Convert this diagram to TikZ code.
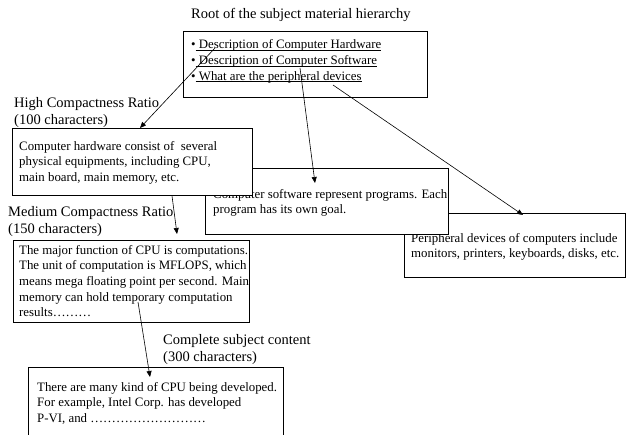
\documentclass[tikz,border=0pt]{standalone}
\usepackage{fontspec}
\setmainfont{Liberation Serif}
\usetikzlibrary{arrows.meta}
\newcommand{\uln}[1]{\underline{\smash{#1}}}

\begin{document}
\begin{tikzpicture}[x=1pt,y=-1pt,
  box/.style={draw,line width=0.8pt,fill=white,anchor=north west,inner sep=0pt},
  boxtext/.style={font=\fontsize{12.85}{15.6}\selectfont,align=left,anchor=north west,inner sep=0pt},
  headtext/.style={font=\fontsize{14.5}{17.5}\selectfont,align=left,anchor=north west,inner sep=0pt},
  link/.style={-{Triangle[length=6pt,width=5pt]},line width=0.6pt}]
%\draw [help lines,step=10](0,0) grid (626,434);
\useasboundingbox (0,0) rectangle (626,434);
% root of the hierarchy
\node[headtext] (title) at (191,8) {Root of the subject material hierarchy};
\node[box,minimum width=244pt,minimum height=66pt] (rootbox) at (183,31) {};
\node[boxtext] (roottext) at (191,43) {\textbullet\uln{ Description of Computer Hardware}\\
  \textbullet\uln{ Description of Computer Software}\\
  \textbullet\uln{ What are the peripheral devices}};
% peripheral devices
\node[box,minimum width=221pt,minimum height=64pt] (perbox) at (404,213) {};
\node[boxtext] (pertext) at (411,233) {Peripheral devices of computers include\\
  monitors, printers, keyboards, disks, etc.};
% software
\node[box,minimum width=243pt,minimum height=66pt] (swbox) at (205,168) {};
\node[boxtext] (swtext) at (213,189) {Computer software represent programs. Each\\
  program has its own goal.};
% high compactness
\node[headtext] (highlabel) at (14,97) {High Compactness Ratio\\(100 characters)};
\node[box,minimum width=240pt,minimum height=67pt] (hwbox) at (12,128) {};
\node[boxtext] (hwtext) at (19,141) {Computer hardware consist of \ several\\
  physical equipments, including CPU,\\
  main board, main memory, etc.};
% medium compactness
\node[headtext] (medlabel) at (8,206) {Medium Compactness Ratio\\(150 characters)};
\node[box,minimum width=236pt,minimum height=82pt] (medbox) at (13,240) {};
\node[boxtext] (medtext) at (19,245) {The major function of CPU is computations.\\
  The unit of computation is MFLOPS, which\\
  means mega floating point per second. Main\\
  memory can hold temporary computation\\
  results………};
% complete content
\node[headtext] (fulllabel) at (163,334) {Complete subject content\\(300 characters)};
\node[box,minimum width=255pt,minimum height=100pt] (fullbox) at (28,367) {};
\node[boxtext] (fulltext) at (37,382) {There are many kind of CPU being developed.\\
  For example, Intel Corp. has developed\\
  P-VI, and ………………………};
% links
\coordinate (hwfrom) at (215,48);
\coordinate (swfrom) at (300,68);
\coordinate (perfrom) at (333,85);
\coordinate (hwto) at ([xshift=128pt]hwbox.north west);
\coordinate (swto) at ([xshift=110pt,yshift=-15pt]swbox.north west);
\coordinate (perto) at ([xshift=119pt,yshift=-2pt]perbox.north west);
\coordinate (medfrom) at ([xshift=160pt]hwbox.south west);
\coordinate (medto) at ([xshift=164pt,yshift=6pt]medbox.north west);
\coordinate (fullfrom) at ([xshift=125pt,yshift=-62pt]medbox.north west);
\coordinate (fullto) at ([xshift=122pt,yshift=-10pt]fullbox.north west);
\draw [link] (hwfrom) -- (hwto);
\draw [link] (swfrom) -- (swto);
\draw [link] (perfrom) -- (perto);
\draw [link] (medfrom) -- (medto);
\draw [link] (fullfrom) -- (fullto);
\end{tikzpicture}
\end{document}
